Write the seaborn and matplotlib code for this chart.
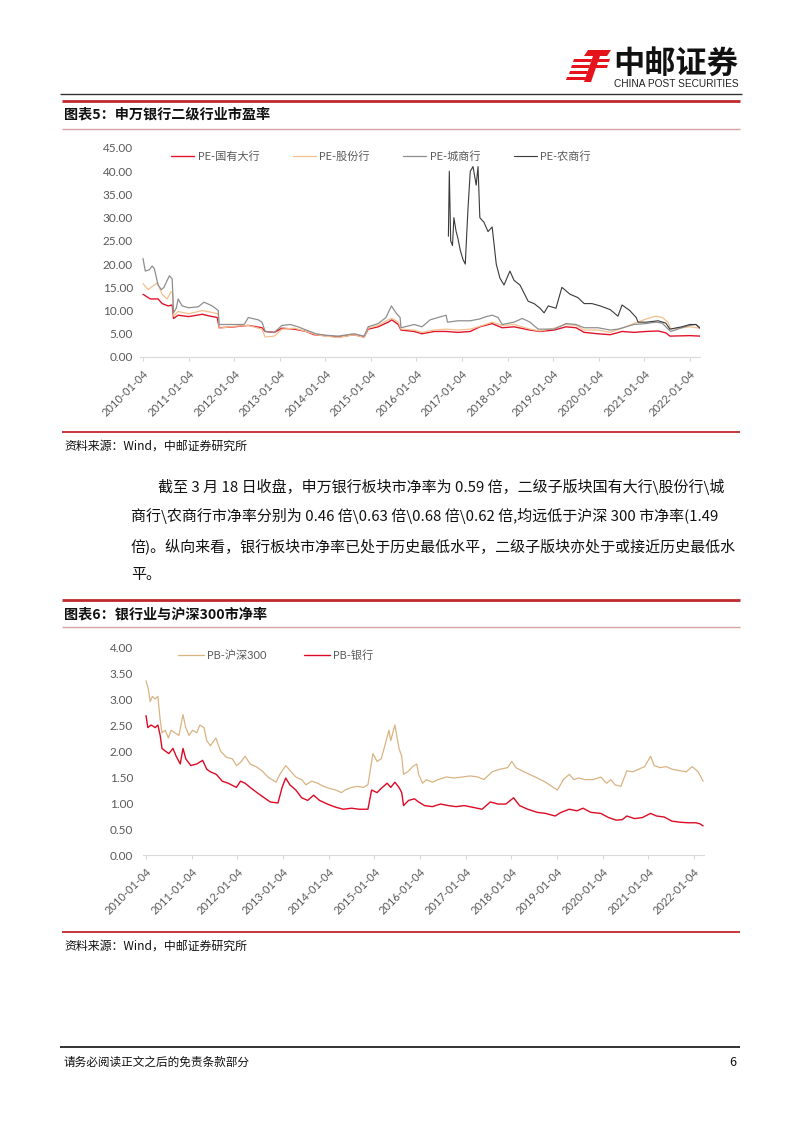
import numpy as np
import matplotlib
matplotlib.use("Agg")
import matplotlib.pyplot as plt
import seaborn as sns
from matplotlib.lines import Line2D
from matplotlib.patches import Polygon
from matplotlib.ticker import FormatStrFormatter
from matplotlib.font_manager import FontProperties

# ---------------- data (x = years since 2010-01-04) ----------------
tick_years = [2010, 2011, 2012, 2013, 2014, 2015, 2016, 2017, 2018, 2019, 2020, 2021, 2022]
tick_labels = ["2010-01-04", "2011-01-04", "2012-01-04", "2013-01-04", "2014-01-04",
               "2015-01-04", "2016-01-04", "2017-01-04", "2018-01-04", "2019-01-04",
               "2020-01-04", "2021-01-04", "2022-01-04"]

pe_state_yr = [0.00, 0.16, 0.33, 0.42, 0.55, 0.64, 0.67, 0.77, 1.00, 1.30,
               1.47, 1.63, 1.67, 2.00, 2.31, 2.61, 2.68, 2.88, 3.05, 3.32,
               3.58, 3.75, 4.00, 4.28, 4.63, 4.85, 4.94, 5.16, 5.38, 5.46,
               5.60, 5.66, 5.95, 6.12, 6.39, 6.65, 6.91, 7.18, 7.39, 7.66,
               7.88, 8.14, 8.49, 8.71, 9.02, 9.28, 9.50, 9.68, 9.98, 10.25,
               10.51, 10.77, 11.04, 11.30, 11.47, 11.56, 12.00, 12.22]
pe_state = [13.5, 12.5, 12.5, 11.5, 11.0, 11.2, 8.3, 9.0, 8.7, 9.2,
            8.8, 8.5, 6.3, 6.5, 6.8, 6.3, 5.5, 5.3, 6.2, 6.0,
            5.5, 4.8, 4.6, 4.3, 4.8, 4.3, 6.0, 6.5, 7.5, 8.0,
            7.0, 5.8, 5.5, 5.0, 5.5, 5.5, 5.3, 5.5, 6.5, 7.2,
            6.3, 6.5, 5.8, 5.5, 5.8, 6.5, 6.3, 5.3, 5.0, 4.8,
            5.5, 5.3, 5.5, 5.6, 5.2, 4.5, 4.6, 4.5]

pe_joint_yr = [0.00, 0.11, 0.25, 0.32, 0.42, 0.53, 0.61, 0.65, 0.67, 0.77,
               1.00, 1.30, 1.56, 1.65, 1.67, 2.00, 2.31, 2.61, 2.68, 2.88,
               3.05, 3.32, 3.58, 3.80, 4.00, 4.28, 4.63, 4.85, 4.94, 5.16,
               5.38, 5.46, 5.60, 5.66, 5.95, 6.12, 6.39, 6.65, 6.91, 7.18,
               7.39, 7.66, 7.88, 8.14, 8.49, 8.71, 9.02, 9.28, 9.50, 9.68,
               9.98, 10.25, 10.51, 10.77, 11.04, 11.25, 11.39, 11.52, 11.58, 12.00,
               12.22]
pe_joint = [15.8, 14.5, 15.5, 16.0, 13.5, 12.5, 14.0, 13.8, 8.8, 9.8,
            9.3, 10.0, 9.5, 9.3, 6.2, 6.6, 6.8, 6.0, 4.3, 4.5,
            6.0, 6.2, 5.5, 4.8, 4.5, 4.2, 4.8, 4.2, 6.2, 6.8,
            8.0, 8.3, 7.5, 6.0, 5.8, 5.3, 5.8, 6.0, 5.8, 6.0,
            6.6, 7.5, 6.8, 7.0, 6.0, 5.6, 6.2, 7.0, 6.8, 5.8,
            5.8, 5.3, 6.2, 7.2, 8.2, 8.8, 8.5, 7.5, 6.0, 6.5,
            6.2]

pe_city_yr = [0.00, 0.05, 0.14, 0.20, 0.25, 0.33, 0.40, 0.46, 0.53, 0.58,
              0.64, 0.67, 0.73, 0.77, 0.86, 1.00, 1.21, 1.34, 1.52, 1.65,
              1.67, 2.00, 2.22, 2.31, 2.53, 2.61, 2.68, 2.88, 3.05, 3.23,
              3.40, 3.58, 3.80, 4.00, 4.28, 4.63, 4.85, 4.94, 5.16, 5.33,
              5.45, 5.55, 5.64, 5.66, 5.95, 6.12, 6.30, 6.47, 6.65, 6.68,
              6.91, 7.18, 7.39, 7.53, 7.66, 7.79, 7.88, 8.14, 8.32, 8.49,
              8.67, 9.02, 9.28, 9.50, 9.68, 9.98, 10.25, 10.42, 10.60, 10.77,
              11.04, 11.25, 11.39, 11.52, 11.58, 11.82, 12.00, 12.13, 12.22]
pe_city = [21.2, 18.5, 18.8, 19.6, 19.0, 15.5, 14.5, 15.0, 16.5, 17.5,
           16.8, 9.5, 10.5, 12.5, 11.0, 10.6, 10.8, 11.8, 11.0, 10.0,
           7.0, 7.0, 7.0, 8.5, 8.0, 7.5, 5.5, 5.3, 6.8, 7.0,
           6.5, 5.8, 5.0, 4.7, 4.5, 5.0, 4.5, 6.5, 7.2, 8.5,
           11.0, 9.5, 8.5, 6.3, 7.0, 6.5, 8.0, 8.5, 9.0, 7.5,
           7.8, 7.8, 8.2, 8.7, 9.0, 8.5, 7.0, 7.5, 8.3, 7.5,
           6.0, 6.0, 7.2, 7.0, 6.3, 6.3, 5.8, 6.0, 6.5, 7.0,
           7.2, 7.5, 7.3, 6.0, 5.5, 6.3, 6.8, 7.0, 6.3]

pe_rural_yr = [6.70, 6.72, 6.75, 6.79, 6.82, 6.87, 6.91, 6.96, 7.02, 7.07,
               7.13, 7.18, 7.24, 7.31, 7.35, 7.39, 7.48, 7.57, 7.66, 7.75,
               7.83, 7.92, 8.05, 8.14, 8.27, 8.45, 8.58, 8.71, 8.80, 8.89,
               9.06, 9.19, 9.37, 9.54, 9.68, 9.85, 10.03, 10.25, 10.42, 10.51,
               10.68, 10.82, 10.86, 11.04, 11.30, 11.47, 11.56, 11.82, 12.00, 12.13,
               12.22]
pe_rural = [26, 40, 25, 24, 30, 27, 25.5, 23, 21, 20,
            32, 40, 41, 37, 41, 30, 29, 27, 28, 20,
            17, 15.5, 18.5, 16.5, 15.5, 12, 11.5, 10.5, 9.5, 11,
            10.5, 15, 13.5, 12.8, 11.5, 11.5, 11, 10.2, 8.8, 11.2,
            10, 8.5, 7.5, 7.5, 7.8, 7.3, 6.0, 6.5, 7.0, 7.0,
            6.2]

pb_hs300_yr = [0.00, 0.05, 0.09, 0.14, 0.20, 0.26, 0.31, 0.35, 0.42, 0.49,
               0.55, 0.63, 0.72, 0.81, 0.87, 0.94, 1.02, 1.11, 1.18, 1.27,
               1.33, 1.41, 1.53, 1.63, 1.76, 1.89, 1.98, 2.07, 2.17, 2.28,
               2.41, 2.54, 2.67, 2.85, 2.93, 3.06, 3.18, 3.28, 3.41, 3.50,
               3.63, 3.76, 3.89, 4.02, 4.15, 4.28, 4.36, 4.50, 4.63, 4.76,
               4.86, 4.97, 5.06, 5.15, 5.23, 5.32, 5.36, 5.45, 5.49, 5.54,
               5.60, 5.64, 5.73, 5.84, 5.93, 5.97, 6.06, 6.14, 6.27, 6.40,
               6.58, 6.75, 6.92, 7.10, 7.27, 7.40, 7.58, 7.75, 7.92, 8.01,
               8.10, 8.23, 8.40, 8.57, 8.75, 8.92, 9.01, 9.14, 9.27, 9.37,
               9.48, 9.61, 9.79, 9.96, 10.09, 10.18, 10.27, 10.40, 10.53, 10.66,
               10.79, 10.92, 11.05, 11.13, 11.26, 11.39, 11.52, 11.70, 11.83, 11.96,
               12.09, 12.20]
pb_hs300 = [3.35, 3.2, 2.95, 3.05, 3.0, 3.05, 2.6, 2.35, 2.4, 2.25,
            2.4, 2.35, 2.3, 2.7, 2.45, 2.3, 2.4, 2.35, 2.5, 2.45,
            2.2, 2.1, 2.25, 2.0, 1.88, 1.85, 1.72, 1.78, 1.9, 1.75,
            1.7, 1.62, 1.5, 1.4, 1.55, 1.72, 1.6, 1.5, 1.45, 1.35,
            1.42, 1.38, 1.32, 1.28, 1.25, 1.2, 1.25, 1.3, 1.32, 1.3,
            1.35, 1.95, 1.8, 1.85, 2.1, 2.4, 2.2, 2.5, 2.3, 2.05,
            1.9, 1.55, 1.6, 1.7, 1.75, 1.55, 1.38, 1.45, 1.4, 1.45,
            1.5, 1.48, 1.5, 1.52, 1.5, 1.45, 1.6, 1.65, 1.68, 1.8,
            1.68, 1.62, 1.55, 1.48, 1.4, 1.3, 1.25, 1.45, 1.55, 1.45,
            1.48, 1.45, 1.45, 1.5, 1.38, 1.45, 1.35, 1.32, 1.62, 1.6,
            1.65, 1.7, 1.9, 1.72, 1.68, 1.7, 1.65, 1.62, 1.6, 1.7,
            1.6, 1.42]

pb_bank_yr = [0.00, 0.04, 0.11, 0.20, 0.26, 0.31, 0.35, 0.42, 0.50, 0.59,
              0.66, 0.75, 0.81, 0.87, 0.98, 1.11, 1.24, 1.33, 1.41, 1.54,
              1.67, 1.80, 1.98, 2.07, 2.17, 2.28, 2.46, 2.59, 2.72, 2.89,
              2.98, 3.06, 3.15, 3.28, 3.41, 3.54, 3.67, 3.80, 3.97, 4.15,
              4.32, 4.50, 4.67, 4.86, 4.94, 5.06, 5.15, 5.28, 5.36, 5.45,
              5.54, 5.60, 5.64, 5.75, 5.88, 5.97, 6.10, 6.27, 6.45, 6.62,
              6.79, 6.97, 7.14, 7.36, 7.54, 7.71, 7.88, 8.05, 8.18, 8.36,
              8.57, 8.75, 8.96, 9.09, 9.27, 9.44, 9.57, 9.74, 9.96, 10.13,
              10.30, 10.43, 10.53, 10.70, 10.87, 11.05, 11.18, 11.35, 11.52, 11.70,
              11.87, 12.04, 12.13, 12.20]
pb_bank = [2.68, 2.45, 2.5, 2.45, 2.5, 2.3, 2.05, 2.0, 1.95, 2.05,
           1.9, 1.75, 2.05, 1.85, 1.72, 1.75, 1.82, 1.65, 1.6, 1.55,
           1.42, 1.38, 1.3, 1.42, 1.38, 1.3, 1.18, 1.1, 1.02, 1.0,
           1.3, 1.48, 1.35, 1.25, 1.1, 1.05, 1.15, 1.05, 0.98, 0.92,
           0.88, 0.9, 0.88, 0.88, 1.25, 1.2, 1.28, 1.38, 1.3, 1.4,
           1.3, 1.2, 0.95, 1.05, 1.08, 1.02, 0.95, 0.93, 0.98, 0.95,
           0.93, 0.95, 0.92, 0.88, 1.02, 0.98, 0.98, 1.1, 0.95, 0.88,
           0.82, 0.8, 0.75, 0.82, 0.88, 0.85, 0.9, 0.82, 0.8, 0.72,
           0.67, 0.68, 0.75, 0.7, 0.72, 0.8, 0.75, 0.73, 0.65, 0.63,
           0.62, 0.62, 0.6, 0.56]

pe_names = ["PE-国有大行", "PE-股份行", "PE-城商行", "PE-农商行"]
pb_names = ["PB-沪深300", "PB-银行"]

para_lines = [
    "截至 3 月 18 日收盘，申万银行板块市净率为 0.59 倍，二级子版块国有大行\\股份行\\城",
    "商行\\农商行市净率分别为 0.46 倍\\0.63 倍\\0.68 倍\\0.62 倍,均远低于沪深 300 市净率(1.49",
    "倍)。纵向来看，银行板块市净率已处于历史最低水平，二级子版块亦处于或接近历史最低水",
    "平。",
]

# ---------------- styling ----------------
sns.set_theme(style="white")
plt.rcParams["font.family"] = ["Lato", "Noto Sans CJK SC", "DejaVu Sans"]
CJK = ["Noto Sans CJK SC", "DejaVu Sans"]

W, H = 802, 1133
fig = plt.figure(figsize=(W / 100, H / 100), dpi=100)
fig.patch.set_facecolor("white")


def fx(x):
    return x / W


def fy(y):
    return 1 - y / H


def hline(y, x0, x1, color, lw):
    fig.add_artist(Line2D([fx(x0), fx(x1)], [fy(y), fy(y)], color=color, lw=lw,
                          transform=fig.transFigure, solid_capstyle="butt"))


def ftext(x, y, s, **kw):
    return fig.text(fx(x), fy(y), s, **kw)


# ---------------- header ----------------
red_logo = "#e5131b"
logo_polys = [
    [(588, 50), (611, 50), (607, 56), (584, 56)],
    [(593, 56), (600, 56), (591, 82), (584, 82)],
    [(574, 59), (592, 59), (591, 62), (573, 62)],
    [(572, 65), (590, 65), (589, 68), (571, 68)],
    [(570, 71), (588, 71), (587, 74), (569, 74)],
    [(598, 59), (610, 59), (609, 62), (597, 62)],
    [(596, 65), (608, 65), (607, 68), (595, 68)],
    [(567, 77), (586, 77), (585, 80), (566, 80)],
]
for poly in logo_polys:
    fig.add_artist(Polygon([(fx(a), fy(b)) for a, b in poly], closed=True,
                           facecolor=red_logo, edgecolor="none", transform=fig.transFigure))
ftext(613, 64, "中邮证券", fontsize=22.5, fontweight="bold", family=CJK,
      ha="left", va="center", color="#111111")
ftext(614, 84, "CHINA POST SECURITIES", fontsize=7.3, family=["Liberation Sans"],
      ha="left", va="center", color="#222222")
hline(94, 60, 742, "#333333", 1.0)

RED = "#c0282d"
PINK = "#d9a3a3"

# ---------------- chart 1 ----------------
hline(101, 62, 740, RED, 2.0)
ftext(64, 115, "图表5：申万银行二级行业市盈率", fontsize=10.2, fontweight="bold",
      family=CJK, ha="left", va="center", color="#111111")
hline(129, 62, 740, PINK, 1.0)

legend_font = FontProperties(family=["Lato", "Noto Sans CJK SC"], size=8)


def style_axes(ax, ymax, ystep, ypad):
    ax.set_xlim(2009.934, 2022.22)
    ax.set_ylim(0, ymax)
    ax.set_yticks(np.arange(0, ymax + ystep / 2, ystep))
    ax.yaxis.set_major_formatter(FormatStrFormatter("%.2f"))
    ax.set_xticks(tick_years)
    ax.set_xticklabels(tick_labels, rotation=45, ha="right", va="top",
                       rotation_mode="anchor")
    for s in ["top", "right", "left"]:
        ax.spines[s].set_visible(False)
    ax.spines["bottom"].set_color("#d9d9d9")
    ax.spines["bottom"].set_linewidth(0.8)
    ax.tick_params(axis="x", length=3, color="#d9d9d9", width=0.8, pad=5,
                   labelsize=8, labelcolor="#595959", bottom=True)
    ax.tick_params(axis="y", length=0, pad=ypad, labelsize=8.5, labelcolor="#595959")
    ax.grid(False)
    ax.set_xlabel("")
    ax.set_ylabel("")
    ax.set_facecolor("white")


ax1 = fig.add_axes([fx(140), fy(357), (700 - 140) / W, (357 - 148) / H])
pe_series = [(pe_state_yr, pe_state, "#e0142d", 1.0),
             (pe_joint_yr, pe_joint, "#f2c08e", 0.9),
             (pe_city_yr, pe_city, "#8f8f8f", 0.9),
             (pe_rural_yr, pe_rural, "#3a3a3a", 0.8)]
for (xs, ys, col, lw), name in zip(pe_series, pe_names):
    sns.lineplot(x=2010 + np.array(xs), y=ys, ax=ax1, color=col, lw=lw,
                 label=name, estimator=None, sort=False)
style_axes(ax1, 45, 5, 5)
leg1 = ax1.legend(loc="upper left", bbox_to_anchor=(fx(171), fy(151)),
                  bbox_transform=fig.transFigure, ncol=4, frameon=False,
                  borderpad=0, borderaxespad=0, handlelength=2.1,
                  handletextpad=0.3, columnspacing=3.0, prop=legend_font)
for t in leg1.get_texts():
    t.set_color("#595959")

hline(432, 62, 740, RED, 1.3)
ftext(64, 446, "资料来源：Wind，中邮证券研究所", fontsize=8.6, family=CJK,
      ha="left", va="center", color="#111111")

# ---------------- paragraph ----------------
para_y = [487, 516, 546, 575]
para_x = [158, 131, 131, 131]
for s, x, y in zip(para_lines, para_x, para_y):
    ftext(x, y, s, fontsize=10.8, family=CJK, ha="left", va="center", color="#111111")

# ---------------- chart 2 ----------------
hline(600, 62, 740, RED, 2.0)
ftext(64, 614, "图表6：银行业与沪深300市净率", fontsize=10.2, fontweight="bold",
      family=CJK, ha="left", va="center", color="#111111")
hline(627, 62, 740, PINK, 1.0)

ax2 = fig.add_axes([fx(143), fy(855), (704 - 143) / W, (855 - 647) / H])
pb_series = [(pb_hs300_yr, pb_hs300, "#d9b483", 0.9),
             (pb_bank_yr, pb_bank, "#dc0a24", 1.0)]
for (xs, ys, col, lw), name in zip(pb_series, pb_names):
    sns.lineplot(x=2010 + np.array(xs), y=ys, ax=ax2, color=col, lw=lw,
                 label=name, estimator=None, sort=False)
style_axes(ax2, 4, 0.5, 7.2)
leg2 = ax2.legend(loc="upper left", bbox_to_anchor=(fx(178), fy(650)),
                  bbox_transform=fig.transFigure, ncol=2, frameon=False,
                  borderpad=0, borderaxespad=0, handlelength=2.3,
                  handletextpad=0.3, columnspacing=3.4, prop=legend_font)
for t in leg2.get_texts():
    t.set_color("#595959")

hline(932, 62, 740, RED, 1.3)
ftext(64, 946, "资料来源：Wind，中邮证券研究所", fontsize=8.6, family=CJK,
      ha="left", va="center", color="#111111")

# ---------------- footer ----------------
hline(1047, 60, 740, "#222222", 1.3)
ftext(64, 1062, "请务必阅读正文之后的免责条款部分", fontsize=8.4, family=CJK,
      ha="left", va="center", color="#111111")
ftext(736, 1062, "6", fontsize=9, family=CJK, ha="right", va="center", color="#111111")

fig.savefig("out.png", dpi=100, facecolor="white")
